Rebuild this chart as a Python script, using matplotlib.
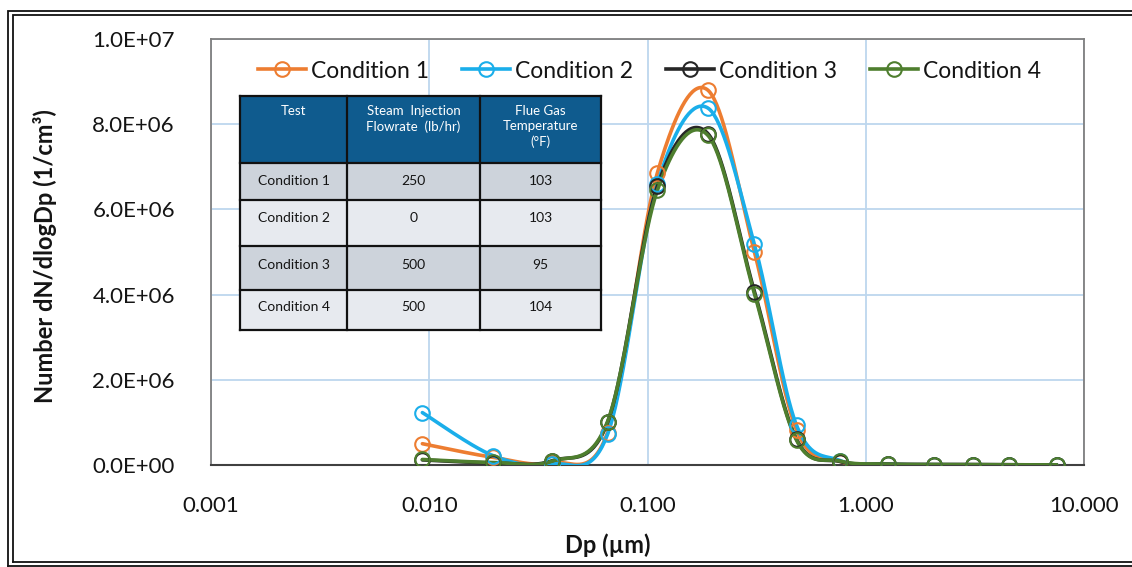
import numpy as np
import matplotlib
matplotlib.use("Agg")
import matplotlib.pyplot as plt
from matplotlib.lines import Line2D
from matplotlib.patches import Rectangle
from matplotlib.ticker import FixedLocator, FuncFormatter, NullLocator

plt.rcParams['font.family'] = ['Lato', 'DejaVu Sans']

# ---- data -------------------------------------------------------------
dp = [0.0093, 0.0196, 0.0365, 0.0656, 0.111, 0.189, 0.309, 0.482, 0.766,
      1.27, 2.06, 3.09, 4.55, 7.5]
cond1 = [0.50e6, 0.18e6, 0.05e6, 0.76e6, 6.86e6, 8.80e6, 5.00e6, 0.82e6, 0.08e6,
         0.02e6, 0.01e6, 0.01e6, 0.005e6, 0.003e6]
cond2 = [1.23e6, 0.22e6, 0.02e6, 0.72e6, 6.60e6, 8.38e6, 5.18e6, 0.93e6, 0.10e6,
         0.02e6, 0.01e6, 0.01e6, 0.005e6, 0.003e6]
cond3 = [0.12e6, 0.05e6, 0.10e6, 1.00e6, 6.55e6, 7.78e6, 4.07e6, 0.60e6, 0.08e6,
         0.02e6, 0.01e6, 0.01e6, 0.005e6, 0.003e6]
cond4 = [0.13e6, 0.06e6, 0.09e6, 1.02e6, 6.45e6, 7.74e6, 4.02e6, 0.58e6, 0.09e6,
         0.02e6, 0.01e6, 0.01e6, 0.005e6, 0.003e6]

series_names = ["Condition 1", "Condition 2", "Condition 3", "Condition 4"]
series_vals = [cond1, cond2, cond3, cond4]
series_colors = ["#ED7D31", "#1AAEEA", "#262626", "#4E7E2E"]

x_ticks = [0.001, 0.01, 0.1, 1.0, 10.0]
y_ticks = [0, 2e6, 4e6, 6e6, 8e6, 1e7]

table_header = ["Test", "Steam  Injection\nFlowrate  (lb/hr)", "Flue Gas\nTemperature\n(°F)"]
table_tests = ["Condition 1", "Condition 2", "Condition 3", "Condition 4"]
table_flow = ["250", "0", "500", "500"]
table_temp = ["103", "103", "95", "104"]


def smooth(xs, ys, n=40):
    """Bezier smoothing through every point (Catmull-Rom style) in log-x space."""
    u = np.log10(np.asarray(xs, float))
    v = np.asarray(ys, float)
    P = np.column_stack([u, v])
    Pe = np.vstack([P[0], P, P[-1]])
    out = []
    t = np.linspace(0, 1, n)[:, None]
    for i in range(len(P) - 1):
        p0, p1, p2, p3 = Pe[i], Pe[i + 1], Pe[i + 2], Pe[i + 3]
        c1 = p1 + (p2 - p0) / 6.0
        c2 = p2 - (p3 - p1) / 6.0
        seg = ((1 - t) ** 3) * p1 + 3 * ((1 - t) ** 2) * t * c1 + 3 * (1 - t) * t ** 2 * c2 + t ** 3 * p2
        out.append(seg if i == 0 else seg[1:])
    S = np.vstack(out)
    return 10 ** S[:, 0], S[:, 1]


W, H = 1132, 567
fig = plt.figure(figsize=(W / 100, H / 100), dpi=100)
fig.patch.set_facecolor("white")

# plot area in pixel terms
L, R, T, B = 211, 1084, 39, 465
ax = fig.add_axes([L / W, 1 - B / H, (R - L) / W, (B - T) / H])

ax.set_xscale("log")
ax.set_xlim(0.001, 10)
ax.set_ylim(0, 1e7)

ax.xaxis.set_major_locator(FixedLocator(x_ticks))
ax.xaxis.set_minor_locator(NullLocator())
ax.xaxis.set_major_formatter(FuncFormatter(lambda v, p: f"{v:.3f}"))
ax.yaxis.set_major_locator(FixedLocator(y_ticks))
ax.yaxis.set_major_formatter(FuncFormatter(lambda v, p: f"{v:.1E}"))

ax.grid(True, which="major", color="#BDD7EE", lw=1.3, zorder=0)
ax.set_axisbelow(True)

for s in ["top", "left", "right"]:
    ax.spines[s].set_color("#7F7F7F")
    ax.spines[s].set_linewidth(1.3)
ax.spines["bottom"].set_color("#404040")
ax.spines["bottom"].set_linewidth(1.5)

ax.tick_params(axis="both", which="both", length=0, labelsize=16, colors="#141414")
ax.tick_params(axis="x", pad=22)
ax.tick_params(axis="y", pad=26)

handles = []
for name, vals, col in zip(series_names, series_vals, series_colors):
    sx, sy = smooth(dp, vals)
    ax.plot(sx, sy, color=col, lw=2.6, zorder=3, solid_capstyle="round")
    ax.plot(dp, vals, ls="none", marker="o", ms=10.5, mfc="none", mec=col, mew=1.5, zorder=4)
    handles.append(Line2D([], [], color=col, lw=2.6, marker="o", ms=10.5, mfc="none", mec=col, mew=1.5))

leg = ax.legend(handles, series_names, ncol=4, loc="center left",
                bbox_to_anchor=((258 - L) / (R - L), (B - 71) / (B - T)),
                frameon=False, fontsize=16.5, handlelength=2.1, handletextpad=0.2,
                columnspacing=1.45, borderpad=0, borderaxespad=0)
for t in leg.get_texts():
    t.set_color("#141414")

fig.text(45 / W, 1 - 256 / H, "Number dN/dlogDp (1/cm³)", rotation=90,
         ha="center", va="center", fontsize=17, fontweight="bold", color="#141414")
fig.text(608 / W, 1 - 545 / H, "Dp (µm)", ha="center", va="center",
         fontsize=17, fontweight="bold", color="#141414")

# ---- overlay in pixel coordinates for the table and the frame -----------
ov = fig.add_axes([0, 0, 1, 1], zorder=5)
ov.set_xlim(0, W)
ov.set_ylim(H, 0)
ov.axis("off")
ov.patch.set_alpha(0)

# double frame around the chart
for (x0, y0, y1) in [(8, 11, 566), (13, 15, 562)]:
    ov.plot([x0, x0, W + 5], [y1, y0, y0], color="#111111", lw=1.3, solid_joinstyle="miter")
    ov.plot([x0, W + 5], [y1, y1], color="#111111", lw=1.3)

col_x = [240, 347, 480, 601]
row_y = [96, 163, 200, 246, 290, 330]
header_blue = "#0F5B8E"
row_fill = ["#CDD3DB", "#E7EAEF", "#CDD3DB", "#E7EAEF"]

ov.add_patch(Rectangle((col_x[0], row_y[0]), col_x[-1] - col_x[0], row_y[1] - row_y[0],
                       facecolor=header_blue, edgecolor="none"))
for r in range(4):
    ov.add_patch(Rectangle((col_x[0], row_y[r + 1]), col_x[-1] - col_x[0],
                           row_y[r + 2] - row_y[r + 1], facecolor=row_fill[r], edgecolor="none"))
for x in col_x:
    ov.plot([x, x], [row_y[0], row_y[-1]], color="#111111", lw=1.6)
for y in row_y:
    ov.plot([col_x[0], col_x[-1]], [y, y], color="#111111", lw=1.6)

for c, txt in enumerate(table_header):
    cx = (col_x[c] + col_x[c + 1]) / 2
    ov.text(cx, 105, txt, ha="center", va="top", fontsize=9.5, color="white",
            linespacing=1.3)

row_text_y = [181, 218, 265, 307]
for r in range(4):
    for c, vals in enumerate([table_tests, table_flow, table_temp]):
        cx = (col_x[c] + col_x[c + 1]) / 2
        ov.text(cx, row_text_y[r], vals[r], ha="center", va="center",
                fontsize=10, color="#141414")

fig.savefig("out.png", dpi=100)
